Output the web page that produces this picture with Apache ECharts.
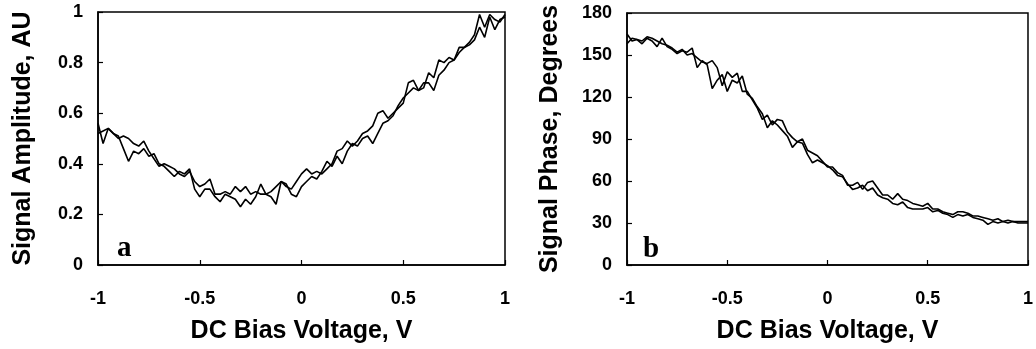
<!DOCTYPE html>
<html>
<head>
<meta charset="utf-8">
<script src="https://cdn.jsdelivr.net/npm/echarts@6/dist/echarts.min.js"></script>
<style>
  html, body { margin: 0; padding: 0; background: #fff; }
  #chart { width: 1036px; height: 349px; }
</style>
</head>
<body>
<div id="chart"></div>
<script>
// bias voltage, V
const voltage = [
  -1, -0.975, -0.95, -0.925, -0.9, -0.875, -0.85, -0.825, -0.8, -0.775,
  -0.75, -0.725, -0.7, -0.675, -0.65, -0.625, -0.6, -0.575, -0.55, -0.525,
  -0.5, -0.475, -0.45, -0.425, -0.4, -0.375, -0.35, -0.325, -0.3, -0.275,
  -0.25, -0.225, -0.2, -0.175, -0.15, -0.125, -0.1, -0.075, -0.05, -0.025,
  0, 0.025, 0.05, 0.075, 0.1, 0.125, 0.15, 0.175, 0.2, 0.225,
  0.25, 0.275, 0.3, 0.325, 0.35, 0.375, 0.4, 0.425, 0.45, 0.475,
  0.5, 0.525, 0.55, 0.575, 0.6, 0.625, 0.65, 0.675, 0.7, 0.725,
  0.75, 0.775, 0.8, 0.825, 0.85, 0.875, 0.9, 0.925, 0.95, 0.975, 1
];

// panel a: signal amplitude, two sweeps
const ampSweep1 = [
  0.56, 0.48, 0.54, 0.52, 0.51, 0.46, 0.41, 0.45, 0.44, 0.46,
  0.43, 0.44, 0.40, 0.39, 0.37, 0.35, 0.37, 0.36, 0.38, 0.30,
  0.27, 0.30, 0.30, 0.27, 0.25, 0.28, 0.27, 0.26, 0.23, 0.26,
  0.24, 0.27, 0.32, 0.28, 0.27, 0.24, 0.33, 0.32, 0.28, 0.27,
  0.31, 0.33, 0.35, 0.34, 0.37, 0.41, 0.39, 0.43, 0.40, 0.45,
  0.48, 0.47, 0.50, 0.51, 0.48, 0.52, 0.56, 0.57, 0.59, 0.63,
  0.66, 0.68, 0.70, 0.69, 0.72, 0.72, 0.69, 0.75, 0.77, 0.80,
  0.81, 0.84, 0.86, 0.87, 0.89, 0.94, 0.90, 0.98, 0.93, 0.97, 0.98
];
const ampSweep2 = [
  0.52, 0.53, 0.54, 0.52, 0.50, 0.51, 0.50, 0.48, 0.47, 0.49,
  0.45, 0.42, 0.39, 0.40, 0.39, 0.38, 0.36, 0.35, 0.37, 0.33,
  0.31, 0.32, 0.34, 0.28, 0.28, 0.29, 0.28, 0.31, 0.29, 0.31,
  0.28, 0.29, 0.28, 0.28, 0.29, 0.31, 0.33, 0.31, 0.30, 0.33,
  0.36, 0.38, 0.36, 0.37, 0.36, 0.38, 0.40, 0.45, 0.46, 0.49,
  0.47, 0.49, 0.52, 0.53, 0.55, 0.60, 0.61, 0.58, 0.60, 0.62,
  0.64, 0.72, 0.73, 0.69, 0.70, 0.76, 0.74, 0.81, 0.80, 0.82,
  0.81, 0.86, 0.86, 0.88, 0.91, 0.99, 0.94, 0.99, 0.97, 0.96, 0.99
];

// panel b: signal phase, degrees, two sweeps
const phaseSweep1 = [
  165, 160, 161, 158, 162, 160, 156, 162, 156, 154,
  151, 153, 152, 155, 141, 146, 143, 126, 132, 136,
  124, 132, 130, 135, 122, 119, 113, 108, 98, 103,
  100, 96, 92, 84, 88, 87, 79, 73, 75, 73,
  71, 68, 64, 63, 58, 54, 55, 57, 53, 55,
  50, 48, 47, 44, 43, 45, 41, 40, 40, 40,
  41, 38, 39, 37, 36, 34, 36, 35, 36, 34,
  33, 32, 29, 31, 30, 31, 30, 31, 30, 30, 30
];
const phaseSweep2 = [
  158, 162, 161, 160, 163, 162, 160, 158, 157, 155,
  152, 154, 150, 151, 148, 145, 144, 146, 141, 128,
  138, 134, 137, 124, 124, 118, 112, 104, 107, 100,
  104, 103, 95, 91, 88, 90, 82, 80, 78, 74,
  70, 70, 66, 64, 57, 57, 59, 54, 59, 60,
  55, 50, 50, 47, 51, 47, 46, 44, 43, 42,
  44, 40, 40, 38, 37, 36, 38, 38, 37, 35,
  35, 34, 33, 32, 33, 31, 32, 31, 31, 31, 31
];

const xTicks = [-1, -0.5, 0, 0.5, 1];

const pairs = (ys) => voltage.map((v, i) => [v, ys[i]]);

const font = '"Liberation Sans", Arial, sans-serif';
const axisText = { color: '#000', fontFamily: font, fontWeight: 'bold', fontSize: 18 };
const lineStyle = { color: '#000', width: 1.6 };

const makeX = (gridIndex) => ({
  type: 'value',
  gridIndex,
  min: -1,
  max: 1,
  interval: 0.5,
  name: 'DC Bias Voltage, V',
  nameLocation: 'middle',
  nameGap: 54,
  nameTextStyle: { color: '#000', fontFamily: font, fontWeight: 'bold', fontSize: 25 },
  axisLine: { onZero: false, lineStyle: { color: '#000', width: 1.5 } },
  axisTick: { inside: true, length: 5, lineStyle: { color: '#000', width: 1.2 } },
  axisLabel: {
    ...axisText,
    margin: 25,
    formatter: (v) => (xTicks.includes(v) ? String(v) : '')
  },
  splitLine: { show: false }
});

const makeY = (gridIndex, max, interval, name, gap) => ({
  type: 'value',
  gridIndex,
  min: 0,
  max,
  interval,
  name,
  nameLocation: 'middle',
  nameGap: gap,
  nameTextStyle: { color: '#000', fontFamily: font, fontWeight: 'bold', fontSize: 25 },
  axisLine: { show: true, onZero: false, lineStyle: { color: '#000', width: 1.5 } },
  axisTick: { show: true, inside: true, length: 5, lineStyle: { color: '#000', width: 1.2 } },
  axisLabel: { ...axisText, margin: 15 },
  splitLine: { show: false }
});

const curve = (xi, data) => ({
  type: 'line',
  xAxisIndex: xi,
  yAxisIndex: xi,
  data,
  showSymbol: false,
  symbol: 'none',
  lineStyle,
  animation: false
});

const chart = echarts.init(document.getElementById('chart'), null, { renderer: 'canvas' });

chart.setOption({
  animation: false,
  backgroundColor: '#fff',
  grid: [
    { left: 98, top: 12, width: 407, height: 254, show: true, borderColor: '#000', borderWidth: 1.5 },
    { left: 627, top: 13, width: 401, height: 254, show: true, borderColor: '#000', borderWidth: 1.5 }
  ],
  xAxis: [makeX(0), makeX(1)],
  yAxis: [
    makeY(0, 1, 0.2, 'Signal Amplitude, AU', 62),
    makeY(1, 180, 30, 'Signal Phase, Degrees', 64)
  ],
  series: [
    curve(0, pairs(ampSweep1)),
    curve(0, pairs(ampSweep2)),
    curve(1, pairs(phaseSweep1)),
    curve(1, pairs(phaseSweep2))
  ],
  graphic: [
    {
      type: 'text', left: 117, top: 234,
      style: { text: 'a', fill: '#000', font: 'bold 29px "Liberation Serif", "Times New Roman", serif' }
    },
    {
      type: 'text', left: 643, top: 235,
      style: { text: 'b', fill: '#000', font: 'bold 29px "Liberation Serif", "Times New Roman", serif' }
    }
  ]
});
</script>
</body>
</html>
